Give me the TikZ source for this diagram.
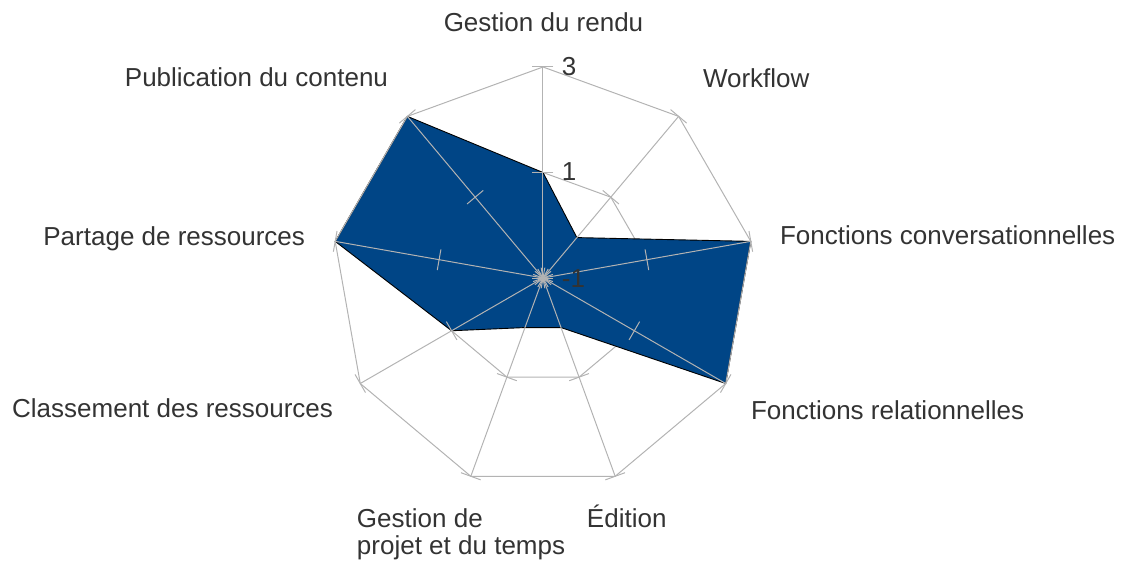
\documentclass[tikz,border=0pt]{standalone}
\usepackage{fontspec}
\setmainfont{Liberation Sans}
\definecolor{series}{HTML}{004586}
\definecolor{gridc}{HTML}{B3B3B3}
\definecolor{txt}{HTML}{333333}
\begin{document}
\begin{tikzpicture}[x=1pt,y=1pt,
  lab/.style={inner sep=0pt, outer sep=0pt, text=txt, font=\fontsize{26}{27}\selectfont},
  gridline/.style={draw=gridc, line width=1pt},
  serieslook/.style={fill=series, draw=black, line width=0.9pt, line join=miter}]
\useasboundingbox (-543,-285) rectangle (579,278);
% coordinates
\foreach \i in {0,...,8} {
  \coordinate (o\i) at ({90-40*\i}:211);
  \coordinate (m\i) at ({90-40*\i}:105.5);
}
\foreach \i/\r in {0/105.5,1/52.75,2/211,3/211,4/52.75,5/52.75,6/105.5,7/211,8/211} {
  \coordinate (d\i) at ({90-40*\i}:\r);
}
% inner grid polygon
\draw[gridline] (m0) -- (m1) -- (m2) -- (m3) -- (m4) -- (m5) -- (m6) -- (m7) -- (m8) -- cycle;
% data series
\draw[serieslook] (d0) -- (d1) -- (d2) -- (d3) -- (d4) -- (d5) -- (d6) -- (d7) -- (d8) -- cycle;
% outer polygon
\draw[gridline] (o0) -- (o1) -- (o2) -- (o3) -- (o4) -- (o5) -- (o6) -- (o7) -- (o8) -- cycle;
% axes and ticks
\foreach \i in {0,...,8} {
  \draw[gridline] (0,0) -- (o\i);
  \begin{scope}[rotate={90-40*\i}]
    \draw[gridline] (0,-10.5) -- (0,10.5);
    \draw[gridline] (105.5,-10.5) -- (105.5,10.5);
    \draw[gridline] (211,-10.5) -- (211,10.5);
  \end{scope}
}
% tick labels
\node[lab, anchor=base west] (t3) at (19,203) {3};
\node[lab, anchor=base west] (t1) at (19,97.3) {1};
\node[lab, anchor=base west] (tm1) at (19,-9) {-1};
% category labels
\node[lab, anchor=base] (c0) at (0.5,246.3) {Gestion du rendu};
\node[lab, anchor=base west] (c1) at (160,190) {Workflow};
\node[lab, anchor=base west] (c2) at (237,34) {Fonctions conversationnelles};
\node[lab, anchor=base west] (c3) at (208,-141) {Fonctions relationnelles};
\node[lab, anchor=base west] (c4) at (44,-249) {Édition};
\node[lab, anchor=base west] (c5a) at (-186,-249) {Gestion de};
\node[lab, anchor=base west] (c5b) at (-186,-276) {projet et du temps};
\node[lab, anchor=base east] (c6) at (-210,-139) {Classement des ressources};
\node[lab, anchor=base east] (c7) at (-238,33) {Partage de ressources};
\node[lab, anchor=base east] (c8) at (-155,191) {Publication du contenu};
\end{tikzpicture}
\end{document}
